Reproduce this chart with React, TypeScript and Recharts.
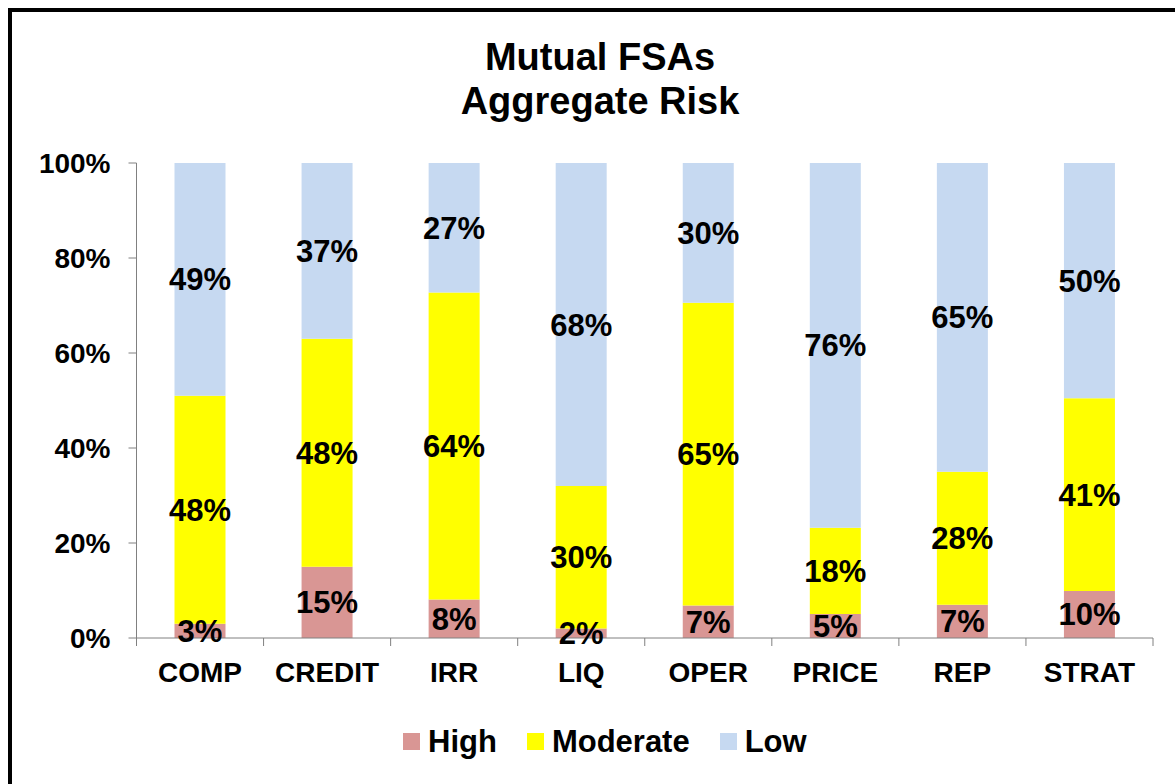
import { BarChart, Bar, XAxis, YAxis, LabelList } from 'recharts';

const CATEGORIES = ['COMP', 'CREDIT', 'IRR', 'LIQ', 'OPER', 'PRICE', 'REP', 'STRAT'];
const HIGH = [3, 15, 8, 2, 7, 5, 7, 10];
const MODERATE = [48, 48, 64, 30, 65, 18, 28, 41];
const LOW = [49, 37, 27, 68, 30, 76, 65, 50];
const Y_TICKS = [0, 0.2, 0.4, 0.6, 0.8, 1];

const SERIES = [
  { key: 'high', name: 'High', color: '#D99694' },
  { key: 'moderate', name: 'Moderate', color: '#FFFF00' },
  { key: 'low', name: 'Low', color: '#C6D9F1' },
];

const data = CATEGORIES.map((name, i) => ({
  name,
  high: HIGH[i],
  moderate: MODERATE[i],
  low: LOW[i],
}));

const FONT = 'Arial, "Liberation Sans", sans-serif';
const W = 1175;
const H = 784;
const PLOT_LEFT = 136.5;
const PLOT_RIGHT = 1153;
const BAND = (PLOT_RIGHT - PLOT_LEFT) / CATEGORIES.length;
const AXIS_GREY = '#808080';

// x ticks sit between categories, like Excel
function CategoryTick(props: any) {
  const { x, y, payload, index } = props;
  const axisY = y - 10;
  return (
    <g>
      <line x1={x - BAND / 2} x2={x - BAND / 2} y1={axisY} y2={axisY + 8} stroke={AXIS_GREY} />
      {index === CATEGORIES.length - 1 && (
        <line x1={x + BAND / 2} x2={x + BAND / 2} y1={axisY} y2={axisY + 8} stroke={AXIS_GREY} />
      )}
      <text
        x={x}
        y={y}
        dy={34}
        textAnchor="middle"
        fontFamily={FONT}
        fontWeight="bold"
        fontSize={28}
        fill="#000"
      >
        {payload.value}
      </text>
    </g>
  );
}

export default function App() {
  return (
    <div
      style={{
        position: 'fixed',
        left: 0,
        top: 0,
        width: W,
        height: H,
        overflow: 'hidden',
        background: '#fff',
        fontFamily: FONT,
      }}
    >
      <div
        style={{
          position: 'absolute',
          left: 8,
          top: 8,
          width: 1300,
          height: 1000,
          border: '4px solid #000',
          boxSizing: 'border-box',
        }}
      />
      <div
        style={{
          position: 'absolute',
          left: 0,
          top: 35,
          width: 1200,
          textAlign: 'center',
          fontSize: 38,
          fontWeight: 'bold',
          lineHeight: '44px',
          color: '#000',
        }}
      >
        Mutual FSAs
        <br />
        Aggregate Risk
      </div>
      <div style={{ position: 'absolute', left: 0, top: 0 }}>
        <BarChart
          width={W}
          height={H}
          data={data}
          stackOffset="expand"
          margin={{ top: 163, right: W - PLOT_RIGHT, bottom: 86, left: 0 }}
        >
          <XAxis
            dataKey="name"
            height={60}
            interval={0}
            tickLine={false}
            tickSize={8}
            tickMargin={2}
            stroke={AXIS_GREY}
            tick={<CategoryTick />}
          />
          <YAxis
            width={PLOT_LEFT}
            domain={[0, 1]}
            ticks={Y_TICKS}
            tickSize={8}
            tickMargin={18}
            stroke={AXIS_GREY}
            tickFormatter={(v: number) => `${Math.round(v * 100)}%`}
            tick={{ fontSize: 28, fontWeight: 'bold', fill: '#000', fontFamily: FONT }}
          />
          {SERIES.map((s) => (
            <Bar
              key={s.key}
              dataKey={s.key}
              name={s.name}
              stackId="risk"
              fill={s.color}
              barSize={51}
              isAnimationActive={false}
            >
              <LabelList
                dataKey={s.key}
                position="center"
                formatter={(v: any) => `${v}%`}
                style={{ fontSize: 31, fontWeight: 'bold', fill: '#000', fontFamily: FONT }}
              />
            </Bar>
          ))}
        </BarChart>
      </div>
      <div
        style={{
          position: 'absolute',
          left: 403,
          top: 724,
          height: 34,
          display: 'flex',
          alignItems: 'center',
          fontSize: 31,
          fontWeight: 'bold',
          lineHeight: 1,
          color: '#000',
        }}
      >
        {SERIES.map((s, i) => (
          <div
            key={s.key}
            style={{ display: 'flex', alignItems: 'center', marginLeft: i === 0 ? 0 : 30 }}
          >
            <span style={{ width: 17, height: 17, background: s.color, marginRight: 8 }} />
            <span>{s.name}</span>
          </div>
        ))}
      </div>
    </div>
  );
}
